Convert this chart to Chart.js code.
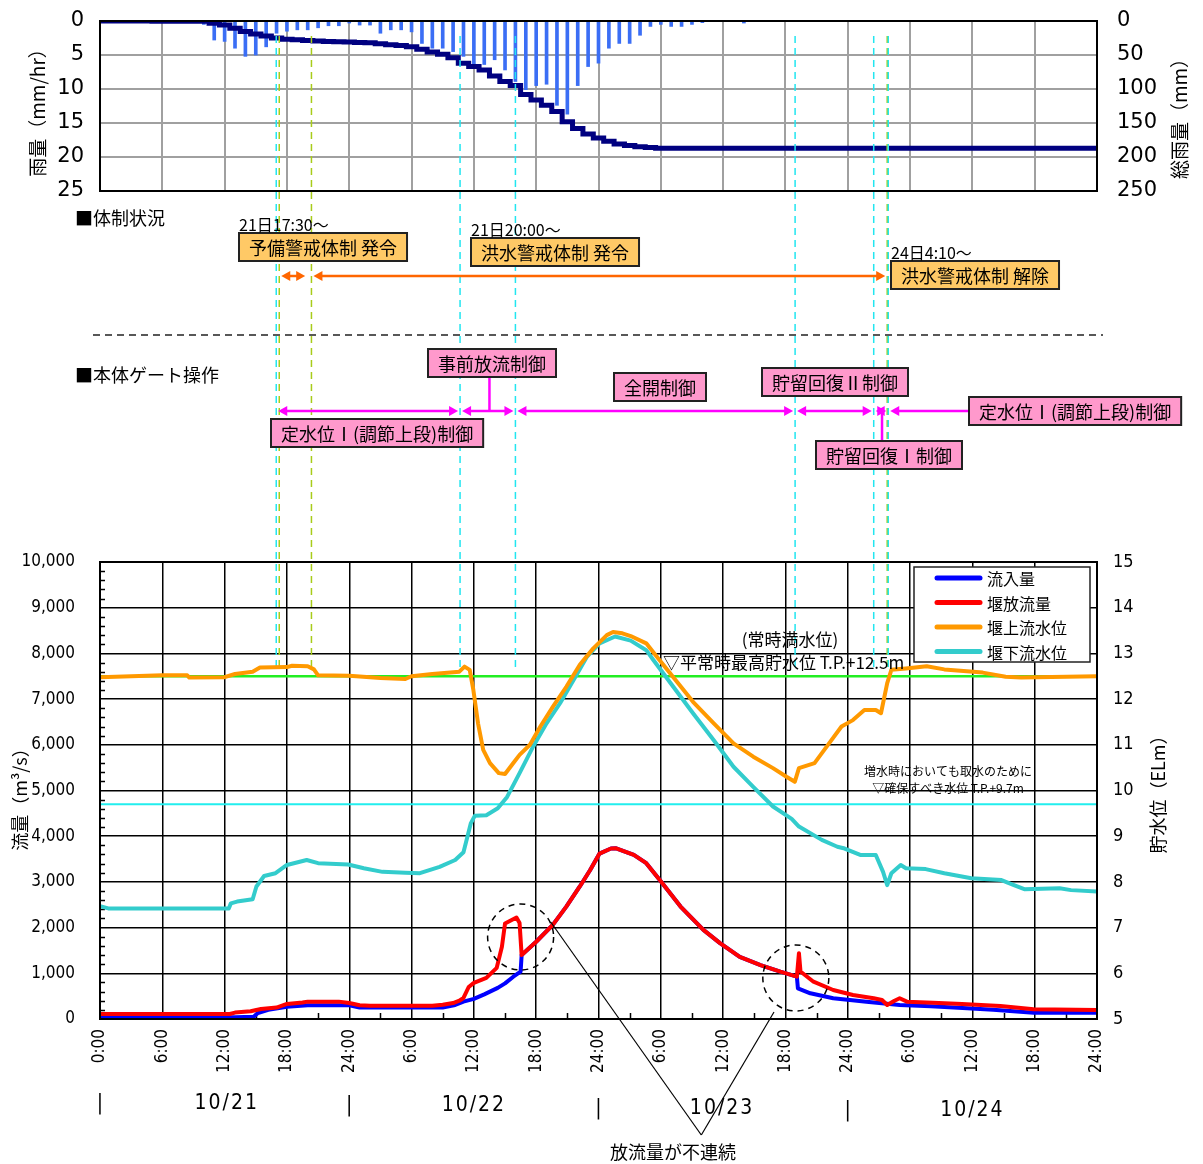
<!DOCTYPE html>
<html>
<head>
<meta charset="utf-8">
<script src="https://cdn.jsdelivr.net/npm/chart.js@4.4.1/dist/chart.umd.min.js"></script>
<style>
  html, body { margin: 0; padding: 0; background: #fff; }
  #wrap { position: relative; width: 1203px; height: 1164px; }
  #wrap canvas { position: absolute; left: 0; top: 0; }
</style>
</head>
<body>
<div id="wrap">
  <canvas id="rain" width="1203" height="200" style="width:1203px;height:200px"></canvas>
  <canvas id="flow" width="1203" height="1164" style="width:1203px;height:1164px"></canvas>
</div>
<script>
// hours counted from 10/21 0:00

// --- rainfall panel ---
const rainHours = [10, 11, 12, 13, 14, 15, 16, 17, 18, 19, 20, 21, 22, 23, 24, 25, 26, 27, 28, 29, 30,
  31, 32, 33, 34, 35, 36, 37, 38, 39, 40, 41, 42, 43, 44, 45, 46, 47, 48, 49, 50, 51, 52, 53, 54, 55, 56, 57, 58, 62];
const rainRate = [0.5, 2.8, 3.0, 4.0, 5.2, 5.0, 3.8, 1.8, 1.5, 1.3, 1.3, 1.0, 0.7, 0.7, 0.3, 0.6, 0.6, 1.8, 1.3, 1.3, 1.6,
  3.3, 4.0, 4.0, 4.5, 5.2, 6.4, 6.4, 5.7, 7.2, 8.9, 10.1, 9.5, 9.3, 12.4, 13.7, 9.5, 6.7, 6.2, 4.0, 3.3, 3.3, 2.1, 0.8, 0.5, 0.8, 0.8, 0.5, 0.25, 0.3];
const cumHours = [0, 10, 11, 12, 13, 14, 15, 16, 17, 18, 19, 20, 21, 22, 23, 24, 25, 26, 27, 28, 29, 30,
  31, 32, 33, 34, 35, 36, 37, 38, 39, 40, 41, 42, 43, 44, 45, 46, 47, 48, 49, 50, 51, 52, 53, 54, 96];
const cumRain = [0, 0.5, 3.3, 6, 10.5, 15.5, 19, 22, 25, 27, 27.5, 28.5, 29.5, 30, 30.5, 31, 31.5, 32, 33.5, 35, 36, 38,
  41.5, 45.5, 49, 54, 62, 67, 72, 81, 89, 95, 108, 116, 124, 133, 148, 158, 166, 172, 177, 181, 183, 185, 186, 187, 187];

// --- flow / water level panel ---
const inflowHours = [0, 13, 14.8, 15.2, 16.2, 18, 20, 24, 25, 33, 34.2, 35, 36, 37, 38.3, 39, 39.8, 40.5, 40.6,
  42, 43.6, 44.9, 46.2, 47.2, 48.1, 49.2, 49.7, 51.4, 52.6, 53.9, 55.9, 58.1, 59.7, 61.6, 63.6, 65.5, 67.1,
  67.2, 68.4, 70.6, 73.8, 77, 80, 83.5, 86, 89.9, 96];
const inflow = [40, 40, 50, 130, 200, 270, 300, 300, 250, 250, 306, 380, 440, 540, 680, 780, 925, 1035, 1400,
  1690, 2060, 2460, 2900, 3260, 3620, 3730, 3735, 3590, 3410, 3040, 2460, 1950, 1660, 1360, 1180, 1035, 926,
  672, 562, 453, 379, 306, 280, 234, 200, 139, 139];

const outflowHours = [0, 12.5, 13, 14.5, 15.5, 17, 18, 19.5, 20, 23, 24, 25, 26, 32, 33, 34, 34.6, 35, 35.5, 36,
  37.2, 38.2, 38.7, 39, 40.1, 40.4, 40.6, 42, 43.6, 44.9, 46.2, 47.2, 48.1, 49.2, 49.7, 51.4, 52.6, 53.9, 55.9,
  58.1, 59.7, 61.6, 63.6, 65.5, 67.1, 67.3, 67.45, 68.7, 70.6, 72.5, 74.5, 75.3, 75.8, 76.5, 77, 77.7, 80.2, 83,
  86.7, 89.9, 96];
const outflow = [110, 110, 140, 170, 220, 250, 330, 360, 380, 380, 350, 300, 290, 290, 310, 350, 400, 460, 700, 790,
  900, 1120, 1580, 2090, 2220, 2100, 1400, 1690, 2060, 2460, 2900, 3260, 3620, 3730, 3735, 3590, 3410, 3040, 2460,
  1950, 1660, 1360, 1180, 1035, 926, 1440, 1040, 816, 635, 525, 453, 416, 306, 400, 453, 379, 357, 330,
  284, 212, 197];

const upLevelHours = [0, 6, 8.4, 8.6, 12, 13, 14.7, 15.4, 18, 18.5, 20, 20.6, 21, 24, 27, 29.4, 30, 32, 34.6, 35.1,
  35.6, 35.95, 36.4, 36.9, 37.55, 38.4, 39, 39.8, 40.4, 41.4, 42.4, 43.6, 44.9, 46.2, 47.5, 48.8, 49.4, 50.3,
  51.1, 52.6, 53.6, 55.3, 57.1, 59.1, 61, 62.9, 64.8, 66.1, 66.9, 67.3, 68.8, 70.2, 71.4, 72.5, 73.6, 74.7,
  75.2, 75.8, 76.2, 77.6, 79.6, 81.3, 85, 87.2, 88.7, 96];
const upLevel = [12.48, 12.52, 12.52, 12.47, 12.48, 12.55, 12.6, 12.69, 12.70, 12.73, 12.72, 12.65, 12.52, 12.51,
  12.46, 12.44, 12.5, 12.55, 12.6, 12.71, 12.64, 12.2, 11.47, 10.89, 10.6, 10.38, 10.36, 10.6, 10.78, 11.0, 11.4,
  11.83, 12.27, 12.75, 13.11, 13.4, 13.47, 13.44, 13.38, 13.22, 12.93, 12.45, 11.94, 11.47, 11.03, 10.74, 10.49,
  10.3, 10.19, 10.49, 10.6, 11.03, 11.4, 11.54, 11.76, 11.76, 11.69, 12.35, 12.64, 12.67, 12.72, 12.65, 12.58,
  12.49, 12.47, 12.5];

const downLevelHours = [0, 0.8, 12.4, 12.6, 13.2, 14.7, 15.06, 15.8, 16.9, 18, 19.9, 21, 23.9, 25.4, 27.2, 29.4,
  30.8, 32.7, 34.2, 35, 35.7, 36.1, 37.2, 38.3, 39.2, 40.4, 41.7, 43, 44.3, 45.6, 46.9, 48.1, 49.6, 51.1, 52.6,
  53.3, 55.2, 57.1, 59.1, 61, 62.9, 64.8, 66.6, 67.3, 69.5, 71, 71.7, 73.2, 74.7, 75.4, 75.8, 76.2, 77.1, 77.6,
  79.5, 81.3, 83.9, 86.8, 88, 89, 92.4, 93.5, 96];
const downLevel = [7.47, 7.42, 7.42, 7.53, 7.57, 7.62, 7.9, 8.13, 8.19, 8.37, 8.48, 8.41, 8.38, 8.3, 8.22, 8.2,
  8.19, 8.33, 8.48, 8.65, 9.28, 9.45, 9.46, 9.61, 9.86, 10.38, 10.96, 11.47, 11.91, 12.42, 12.93, 13.22, 13.37,
  13.28, 13.07, 12.85, 12.27, 11.69, 11.1, 10.52, 10.08, 9.65, 9.38, 9.21, 8.92, 8.77, 8.73, 8.59, 8.59, 8.22,
  7.93, 8.19, 8.37, 8.3, 8.28, 8.19, 8.08, 8.04, 7.93, 7.84, 7.86, 7.82, 7.79];

const hourTickLabels = ['0:00', '6:00', '12:00', '18:00', '24:00', '6:00', '12:00', '18:00', '24:00',
  '6:00', '12:00', '18:00', '24:00', '6:00', '12:00', '18:00', '24:00'];
const dayLabels = ['10/21', '10/22', '10/23', '10/24'];
const dayLabelHours = [12.2, 36, 59.9, 84];
const dayStartHours = [0, 24, 48, 72];

// reference water levels (m)
const fullLevel = 12.5;
const intakeLevel = 9.7;

// operation events (hours)
const gateEventHours = [16.97, 34.67, 40.0, 66.93, 74.5, 75.9];
const stateEventHours = [17.26, 20.36, 75.8];

const stateBoxes = [
  { text: '予備警戒体制 発令', hour: 21.5, y: 247, note: '21日17:30～' },
  { text: '洪水警戒体制 発令', hour: 43.8, y: 252, note: '21日20:00～' },
  { text: '洪水警戒体制 解除', hour: 84.25, y: 275, note: '24日4:10～' }
];
const gateBoxes = [
  { text: '事前放流制御', hour: 37.75, y: 363 },
  { text: '全開制御', hour: 53.9, y: 387 },
  { text: '貯留回復Ⅱ制御', hour: 70.8, y: 382 },
  { text: '定水位Ⅰ(調節上段)制御', hour: 93.9, y: 411 },
  { text: '定水位Ⅰ(調節上段)制御', hour: 26.7, y: 433 },
  { text: '貯留回復Ⅰ制御', hour: 76.0, y: 455 }
];
const stateArrows = [[17.26, 19.95], [20.36, 75.8]];
const gateArrows = [[16.97, 34.67], [34.67, 40.0], [40.0, 66.93], [66.93, 74.5], [74.5, 75.9]];
const gateTailHours = [75.9, 84.0];   // single-headed arrow toward the last box
const gateConnectors = [[37.5, 363, 411], [75.3, 411, 455]];

// discontinuity marks on the discharge curve
const discCircles = [{ hour: 40.5, flow: 1794 }, { hour: 67.0, flow: 897 }];
const discPointers = [{ hour: 43.4, flow: 2122 }, { hour: 64.9, flow: 153 }];

const JP = "'Noto Sans CJK JP', 'Noto Sans', sans-serif";
const NARROW = "'DejaVu Sans Condensed', 'Liberation Sans', sans-serif";
Chart.defaults.font.family = JP;
Chart.defaults.color = '#000';

const toXY = (xs, ys) => xs.map((x, i) => ({ x, y: ys[i] }));
const noPad = s => { s.paddingTop = 0; s.paddingBottom = 0; };

function vText(ctx, text, x, y, font) {
  ctx.save();
  ctx.translate(x, y);
  ctx.rotate(-Math.PI / 2);
  ctx.font = font;
  ctx.textAlign = 'center';
  ctx.textBaseline = 'middle';
  ctx.fillText(text, 0, 0);
  ctx.restore();
}

function head(ctx, x, y, dir) {
  ctx.beginPath();
  ctx.moveTo(x, y);
  ctx.lineTo(x - dir * 9, y - 5);
  ctx.lineTo(x - dir * 9, y + 5);
  ctx.closePath();
  ctx.fill();
}

function drawBox(ctx, cx, cy, text, fill) {
  ctx.font = '18px ' + JP;
  const w = ctx.measureText(text).width + 20, h = 28;
  const left = Math.round(cx - w / 2), top = Math.round(cy - h / 2);
  ctx.fillStyle = fill;
  ctx.fillRect(left, top, w, h);
  ctx.strokeStyle = '#222';
  ctx.lineWidth = 2;
  ctx.strokeRect(left, top, w, h);
  ctx.fillStyle = '#000';
  ctx.textAlign = 'center';
  ctx.textBaseline = 'middle';
  ctx.fillText(text, left + w / 2, cy + 1);
  return { left, top, w, h };
}

// ---------- top panel ----------
const rainFrame = {
  id: 'rainFrame',
  afterDraw(chart) {
    const { ctx, chartArea: a } = chart;
    ctx.save();
    ctx.strokeStyle = '#000';
    ctx.lineWidth = 2;
    ctx.strokeRect(a.left, a.top, a.right - a.left, a.bottom - a.top);
    ctx.fillStyle = '#000';
    vText(ctx, '雨量（mm/hr）', 38, 108, '19px ' + JP);
    vText(ctx, '総雨量（mm）', 1180, 114, '19px ' + JP);
    ctx.restore();
  }
};

new Chart(document.getElementById('rain'), {
  type: 'bar',
  data: {
    datasets: [
      {
        type: 'line', label: '総雨量', data: toXY(cumHours, cumRain), yAxisID: 'yc',
        borderColor: '#000080', borderWidth: 5, pointRadius: 0, stepped: 'middle', order: 0
      },
      {
        type: 'bar', label: '雨量', data: toXY(rainHours, rainRate), yAxisID: 'y',
        backgroundColor: '#3b6ef5', barThickness: 3, order: 1
      }
    ]
  },
  options: {
    responsive: false,
    animation: false,
    layout: { padding: { top: 21, left: 0, right: 0, bottom: 0 } },
    plugins: { legend: { display: false }, tooltip: { enabled: false } },
    scales: {
      x: {
        type: 'linear', min: 0, max: 96, offset: false,
        ticks: { stepSize: 6, display: false },
        grid: { color: '#a0a0a0', lineWidth: 2, drawTicks: false, offset: false },
        border: { color: '#000', width: 2 },
        afterFit(s) { s.height = 9; }
      },
      y: {
        position: 'left', reverse: true, min: 0, max: 25,
        ticks: { stepSize: 5, autoSkip: false, padding: 16, font: { size: 21, family: "'DejaVu Sans', sans-serif" } },
        grid: { color: '#a0a0a0', lineWidth: 2, drawTicks: false },
        border: { color: '#000', width: 2 },
        afterFit(s) { s.width = 100; noPad(s); }
      },
      yc: {
        position: 'right', reverse: true, min: 0, max: 250,
        ticks: { stepSize: 50, autoSkip: false, padding: 20, font: { size: 21, family: "'DejaVu Sans', sans-serif" } },
        grid: { display: false, drawTicks: false },
        border: { color: '#000', width: 2 },
        afterFit(s) { s.width = 106; noPad(s); }
      }
    }
  },
  plugins: [rainFrame]
});

// ---------- bottom panel + annotation band ----------
const flowExtras = {
  id: 'flowExtras',
  beforeDatasetsDraw(chart) {
    const { ctx, chartArea: a, scales: { x, y, yw } } = chart;
    ctx.save();
    // minor ticks
    ctx.strokeStyle = '#000';
    ctx.lineWidth = 1.5;
    ctx.beginPath();
    for (let v = 200; v < 10000; v += 200) {
      if (v % 1000 === 0) continue;
      const py = Math.round(y.getPixelForValue(v)) + 0.5;
      ctx.moveTo(a.left, py); ctx.lineTo(a.left + 5, py);
    }
    for (let h = 3; h < 96; h += 6) {
      const px = Math.round(x.getPixelForValue(h)) + 0.5;
      ctx.moveTo(px, a.bottom); ctx.lineTo(px, a.bottom - 6);
    }
    ctx.stroke();
    // reference levels
    [[fullLevel, '#22ee22', 2.5], [intakeLevel, '#22eeee', 2]].forEach(([lv, col, lw]) => {
      const py = yw.getPixelForValue(lv);
      ctx.strokeStyle = col; ctx.lineWidth = lw;
      ctx.beginPath(); ctx.moveTo(a.left, py); ctx.lineTo(a.right, py); ctx.stroke();
    });
    // event lines
    ctx.lineWidth = 1.5;
    ctx.setLineDash([7, 5]);
    ctx.strokeStyle = '#a8cc1a';
    stateEventHours.forEach(h => {
      const px = x.getPixelForValue(h);
      ctx.beginPath(); ctx.moveTo(px, 36); ctx.lineTo(px, 672); ctx.stroke();
    });
    ctx.strokeStyle = '#22e6f0';
    gateEventHours.forEach(h => {
      const px = x.getPixelForValue(h);
      ctx.beginPath(); ctx.moveTo(px, 36); ctx.lineTo(px, 672); ctx.stroke();
    });
    ctx.restore();
  },
  afterDraw(chart) {
    const { ctx, chartArea: a, scales: { x, y } } = chart;
    const X = h => x.getPixelForValue(h);
    ctx.save();
    ctx.strokeStyle = '#000';
    ctx.lineWidth = 2;
    ctx.strokeRect(a.left, a.top, a.right - a.left, a.bottom - a.top);

    // --- annotation band ---
    ctx.fillStyle = '#000';
    ctx.font = '18px ' + JP;
    ctx.textAlign = 'left';
    ctx.textBaseline = 'middle';
    ctx.fillText('■体制状況', 75, 218);
    ctx.fillText('■本体ゲート操作', 75, 375);

    ctx.setLineDash([7, 5]);
    ctx.lineWidth = 1.5;
    ctx.strokeStyle = '#222';
    ctx.beginPath(); ctx.moveTo(93, 335); ctx.lineTo(1103, 335); ctx.stroke();
    ctx.setLineDash([]);

    // orange arrows
    ctx.strokeStyle = '#ff6600'; ctx.fillStyle = '#ff6600'; ctx.lineWidth = 2.5;
    stateArrows.forEach(([h0, h1]) => {
      const x0 = X(h0) + 2, x1 = X(h1) - 2;
      ctx.beginPath(); ctx.moveTo(x0 + 4, 276); ctx.lineTo(x1 - 4, 276); ctx.stroke();
      head(ctx, x0, 276, -1); head(ctx, x1, 276, 1);
    });

    // magenta arrows
    ctx.strokeStyle = '#ff00ff'; ctx.fillStyle = '#ff00ff';
    gateArrows.forEach(([h0, h1]) => {
      const x0 = X(h0) + 2, x1 = X(h1) - 2;
      ctx.beginPath(); ctx.moveTo(x0 + 4, 411); ctx.lineTo(x1 - 4, 411); ctx.stroke();
      head(ctx, x0, 411, -1); head(ctx, x1, 411, 1);
    });
    {
      const x0 = X(gateTailHours[0]) + 2;
      ctx.beginPath(); ctx.moveTo(x0 + 4, 411); ctx.lineTo(X(gateTailHours[1]), 411); ctx.stroke();
      head(ctx, x0, 411, -1);
    }
    gateConnectors.forEach(([h, y0, y1]) => {
      ctx.beginPath(); ctx.moveTo(X(h), y0); ctx.lineTo(X(h), y1); ctx.stroke();
    });

    stateBoxes.forEach(b => {
      const r = drawBox(ctx, X(b.hour), b.y, b.text, '#ffc966');
      ctx.font = '16px ' + JP;
      ctx.textAlign = 'left';
      ctx.textBaseline = 'alphabetic';
      ctx.fillText(b.note, r.left, r.top - 2);
    });
    gateBoxes.forEach(b => drawBox(ctx, X(b.hour), b.y, b.text, '#ff99cc'));

    // --- plot annotations ---
    ctx.fillStyle = '#000';
    ctx.textBaseline = 'middle';
    ctx.font = '17px ' + JP;
    ctx.textAlign = 'center';
    ctx.fillText('(常時満水位)', 790, 640);
    ctx.textAlign = 'left';
    ctx.fillText('▽平常時最高貯水位 T.P.+12.5m', 663, 663);
    ctx.font = '12px ' + JP;
    ctx.textAlign = 'center';
    ctx.fillText('増水時においても取水のために', 948, 771);
    ctx.fillText('▽確保すべき水位 T.P.+9.7m', 948, 788);

    // discontinuity circles + pointers
    ctx.strokeStyle = '#000';
    ctx.lineWidth = 1.5;
    ctx.setLineDash([6, 5]);
    discCircles.forEach(c => {
      ctx.beginPath(); ctx.arc(X(c.hour), y.getPixelForValue(c.flow), 33, 0, Math.PI * 2); ctx.stroke();
    });
    ctx.setLineDash([]);
    const apexX = X(57.9), apexY = 1135;
    ctx.lineWidth = 1.2;
    discPointers.forEach(p => {
      ctx.beginPath(); ctx.moveTo(X(p.hour), y.getPixelForValue(p.flow)); ctx.lineTo(apexX, apexY); ctx.stroke();
    });
    ctx.font = '18px ' + JP;
    ctx.textAlign = 'center';
    ctx.fillText('放流量が不連続', 673, 1152);

    // date row
    ctx.font = '21px ' + NARROW;
    ctx.letterSpacing = '2px';
    const rowY = [1104, 1106, 1109, 1111];
    dayLabels.forEach((d, i) => {
      ctx.fillText(d, X(dayLabelHours[i]), rowY[i]);
      ctx.fillText('|', X(dayStartHours[i]) + 1, rowY[i]);
    });
    ctx.letterSpacing = '0px';

    // legend
    ctx.fillStyle = '#fff';
    ctx.fillRect(914, 567, 176, 95);
    ctx.strokeStyle = '#222';
    ctx.lineWidth = 1.5;
    ctx.strokeRect(914, 567, 176, 95);
    const legendOrder = [1, 0, 2, 3];
    ctx.font = '16px ' + JP;
    ctx.textAlign = 'left';
    legendOrder.forEach((di, k) => {
      const ds = chart.data.datasets[di];
      const ly = 578 + k * 24.5;
      ctx.strokeStyle = ds.borderColor;
      ctx.lineWidth = 5;
      ctx.lineCap = 'round';
      ctx.beginPath(); ctx.moveTo(937, ly); ctx.lineTo(980, ly); ctx.stroke();
      ctx.fillStyle = '#000';
      ctx.fillText(ds.label, 987, ly + 1);
    });

    // axis titles
    vText(ctx, '流量（m³/s）', 20, 795, '18px ' + JP);
    vText(ctx, '貯水位（ELm）', 1158, 790, '18px ' + JP);
    ctx.restore();
  }
};

new Chart(document.getElementById('flow'), {
  type: 'line',
  data: {
    datasets: [
      { label: '堰放流量', data: toXY(outflowHours, outflow), yAxisID: 'y', borderColor: '#ff0000' },
      { label: '流入量', data: toXY(inflowHours, inflow), yAxisID: 'y', borderColor: '#0000ff' },
      { label: '堰上流水位', data: toXY(upLevelHours, upLevel), yAxisID: 'yw', borderColor: '#ff9900' },
      { label: '堰下流水位', data: toXY(downLevelHours, downLevel), yAxisID: 'yw', borderColor: '#33cccc' }
    ]
  },
  options: {
    responsive: false,
    animation: false,
    layout: { padding: { top: 562, left: 0, right: 0, bottom: 0 } },
    elements: { line: { borderWidth: 4, tension: 0, borderJoinStyle: 'round' }, point: { radius: 0 } },
    plugins: { legend: { display: false }, tooltip: { enabled: false } },
    scales: {
      x: {
        type: 'linear', min: 0, max: 96,
        ticks: {
          stepSize: 6, autoSkip: false, minRotation: 90, maxRotation: 90, padding: 10,
          font: { size: 17, family: NARROW },
          callback: (v, i) => hourTickLabels[i]
        },
        grid: { color: '#000', lineWidth: 1.5, drawTicks: false },
        border: { color: '#000', width: 2 },
        afterFit(s) { s.height = 145; }
      },
      y: {
        position: 'left', min: 0, max: 10000,
        ticks: {
          stepSize: 1000, autoSkip: false, padding: 25, font: { size: 17, family: NARROW },
          callback: v => v.toLocaleString('en-US')
        },
        grid: { color: '#000', lineWidth: 1.5, drawTicks: false },
        border: { color: '#000', width: 2 },
        afterFit(s) { s.width = 100; noPad(s); }
      },
      yw: {
        position: 'right', min: 5, max: 15,
        ticks: { stepSize: 1, autoSkip: false, padding: 16, font: { size: 18, family: NARROW } },
        grid: { display: false, drawTicks: false },
        border: { color: '#000', width: 2 },
        afterFit(s) { s.width = 106; noPad(s); }
      }
    }
  },
  plugins: [flowExtras]
});
</script>
</body>
</html>
